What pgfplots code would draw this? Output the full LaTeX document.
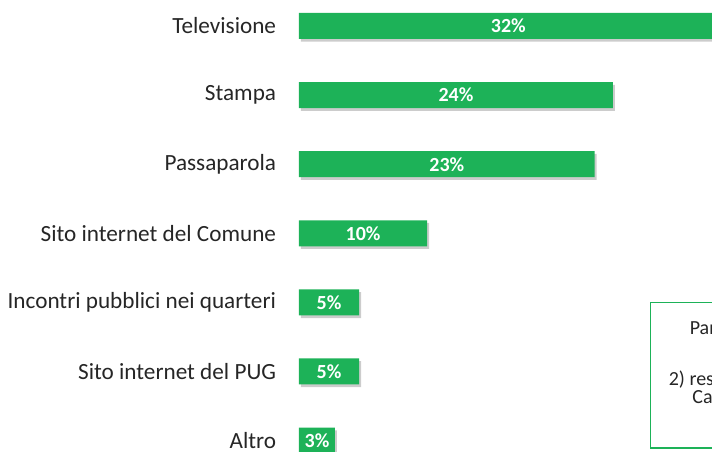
\documentclass[border=0pt]{standalone}
\usepackage{pgfplots}
\pgfplotsset{compat=1.18}
\usepackage{fontspec}
\setmainfont{Carlito}
\definecolor{bargreen}{RGB}{29,178,88}
\definecolor{lab}{RGB}{38,38,38}
\pgfplotstableread{
pos val half lab
26.0 32.0 16.0 32\%
95.1 24.0 12.0 24\%
164.2 22.6 11.3 23\%
233.3 9.8 4.9 10\%
302.4 4.6 2.3 5\%
371.5 4.6 2.3 5\%
440.6 2.75 1.375 3\%
}\datatable
\begin{document}
\begin{tikzpicture}
\begin{axis}[
  scale only axis, width=309.75pt, height=339pt,
  xmin=0, xmax=31.57, ymin=0, ymax=452, y dir=reverse,
  axis line style={draw=none},
  major tick length=0pt,
  xtick=\empty,
  ytick={26.0,95.1,164.2,233.3,302.4,371.5,440.6},
  yticklabels={Televisione,Stampa,Passaparola,Sito internet del Comune,Incontri pubblici nei quarteri,Sito internet del PUG,Altro},
  yticklabel style={font=\fontsize{17.4}{20}\selectfont, text=lab, inner sep=0pt, anchor=east, xshift=-17pt},
  clip=true,
]
\addplot[xbar, bar shift=0pt, bar width=26, fill=black, opacity=0.2, draw=none, xshift=1.5pt, yshift=-2pt] table[x=val, y=pos] {\datatable};
\addplot[xbar, bar shift=0pt, bar width=26, fill=bargreen, draw=none] table[x=val, y=pos] {\datatable};
\addplot[draw=none, mark=none, point meta=explicit symbolic, nodes near coords,
  nodes near coords style={anchor=center, text=white, font=\bfseries\fontsize{15}{17}\selectfont}]
  table[x=half, y=pos, meta=lab] {\datatable};
\draw[bargreen, line width=1pt] (axis cs:26.87,302.7) rectangle (axis cs:45,448);
\node[anchor=west, inner sep=0pt, text=lab, font=\fontsize{15}{18}\selectfont] at (axis cs:29.85,329) {Partecipanti};
\node[anchor=west, inner sep=0pt, text=lab, font=\fontsize{15}{18}\selectfont] at (axis cs:28.25,380) {2) residenti};
\node[anchor=west, inner sep=0pt, text=lab, font=\fontsize{15}{18}\selectfont] at (axis cs:30.05,397) {Ca};
\end{axis}
\pgfresetboundingbox
\path ([xshift=-224.25pt]current axis.south west) rectangle (current axis.north east);
\end{tikzpicture}
\end{document}
